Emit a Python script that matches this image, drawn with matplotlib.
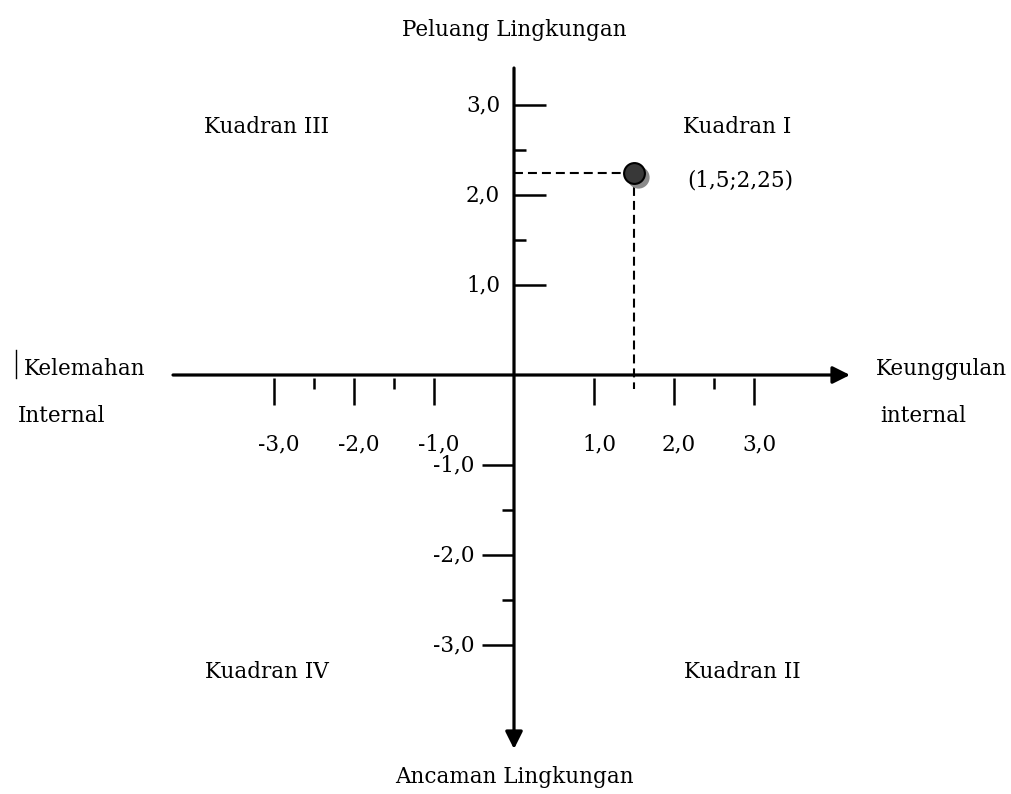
import matplotlib
matplotlib.use("Agg")
import matplotlib.pyplot as plt
from matplotlib.transforms import ScaledTranslation
from matplotlib.lines import Line2D

# ---- data ----
x_major = [-3.0, -2.0, -1.0, 1.0, 2.0, 3.0]
x_minor = [-2.5, -1.5, 2.5]
y_major_pos = [1.0, 2.0, 3.0]
y_major_neg = [-1.0, -2.0, -3.0]
y_minor_pos = [1.5, 2.5]
y_minor_neg = [-1.5, -2.5]
point_x = 1.5
point_y = 2.25
point_label = "(1,5;2,25)"
quadrants = ["Kuadran I", "Kuadran II", "Kuadran III", "Kuadran IV"]

def fmt(v):
    return f"{v:.1f}".replace(".", ",")

W, H = 1012, 794
fig = plt.figure(figsize=(W / 100, H / 100), dpi=100)
ax = fig.add_axes([0, 0, 1, 1])
ax.axis("off")

# pixel geometry of the reference (origin and scale)
ox, oy = 514, 375
sx, sy = 80.0, 90.0
ax.set_xlim(-ox / sx, (W - ox) / sx)
ax.set_ylim((oy - H) / sy, oy / sy)

def fx(p):  # figure fraction from pixel x
    return p / W
def fy(p):
    return 1 - p / H

FONT = "DejaVu Serif"
FS = 15.5

# axes with arrows
ax.annotate("", xy=((850 - ox) / sx, 0), xytext=((173 - ox) / sx, 0),
            arrowprops=dict(arrowstyle="-|>", lw=2.3, color="black",
                            mutation_scale=26, shrinkA=0, shrinkB=0))
ax.annotate("", xy=(0, (oy - 749) / sy), xytext=(0, (oy - 68) / sy),
            arrowprops=dict(arrowstyle="-|>", lw=2.3, color="black",
                            mutation_scale=26, shrinkA=0, shrinkB=0))

# x ticks (below the axis)
tick_major_y = 30 / sy
tick_minor_y = 14 / sy
ax.vlines(x_major, -tick_major_y, -3 / sy, color="black", lw=1.8)
ax.vlines(x_minor, -tick_minor_y, -3 / sy, color="black", lw=1.8)
for v in x_major:
    ax.text(v + 5 / sx, -(444 - oy) / sy, fmt(v), ha="center", va="center",
            fontsize=FS, family=FONT)

# y ticks: positive to the right, negative to the left
tick_major_x = 32 / sx
tick_minor_x = 12 / sx
ax.hlines(y_major_pos, 0, tick_major_x, color="black", lw=1.8)
ax.hlines(y_minor_pos, 0, tick_minor_x, color="black", lw=1.8)
ax.hlines(y_major_neg, -tick_major_x, 0, color="black", lw=1.8)
ax.hlines(y_minor_neg, -tick_minor_x, 0, color="black", lw=1.8)
for v in y_major_pos:
    ax.text(-14 / sx, v, fmt(v), ha="right", va="center",
            fontsize=FS, family=FONT)
for v in y_major_neg:
    ax.text(-40 / sx, v, fmt(v), ha="right", va="center",
            fontsize=FS, family=FONT)

# dashed guides to the point
ax.plot([0, point_x], [point_y, point_y], color="black", lw=1.5,
        dashes=(4.3, 2.4))
ax.plot([point_x, point_x], [point_y, -14 / sy], color="black", lw=1.5,
        dashes=(4.3, 2.4))

# point with shadow
shadow = ax.transData + ScaledTranslation(3 / 72, -3 / 72, fig.dpi_scale_trans)
ax.plot([point_x], [point_y], "o", ms=15, color="#8a8a8a", mec="#8a8a8a",
        transform=shadow, zorder=4)
ax.plot([point_x], [point_y], "o", ms=15, color="#383838", mec="black",
        mew=1.5, zorder=5)
ax.text(fx(740), fy(181), point_label, transform=fig.transFigure,
        ha="center", va="center", fontsize=FS, family=FONT)

# quadrant labels
qpos = {"Kuadran I": (737, 127), "Kuadran II": (742, 672),
        "Kuadran III": (267, 127), "Kuadran IV": (267, 672)}
for q in quadrants:
    px, py = qpos[q]
    ax.text(fx(px), fy(py), q, transform=fig.transFigure, ha="center",
            va="center", fontsize=FS, family=FONT)

# axis titles
ax.text(fx(514), fy(30), "Peluang Lingkungan", transform=fig.transFigure,
        ha="center", va="center", fontsize=FS, family=FONT)
ax.text(fx(514), fy(777), "Ancaman Lingkungan", transform=fig.transFigure,
        ha="center", va="center", fontsize=FS, family=FONT)
ax.text(fx(24), fy(369), "Kelemahan", transform=fig.transFigure,
        ha="left", va="center", fontsize=FS, family=FONT)
ax.text(fx(18), fy(416), "Internal", transform=fig.transFigure,
        ha="left", va="center", fontsize=FS, family=FONT)
ax.text(fx(876), fy(369), "Keunggulan", transform=fig.transFigure,
        ha="left", va="center", fontsize=FS, family=FONT)
ax.text(fx(880), fy(416), "internal", transform=fig.transFigure,
        ha="left", va="center", fontsize=FS, family=FONT)
fig.add_artist(Line2D([fx(16), fx(16)], [fy(350), fy(378)], color="black",
                      lw=1.0, transform=fig.transFigure))

fig.savefig("out.png", dpi=100)
